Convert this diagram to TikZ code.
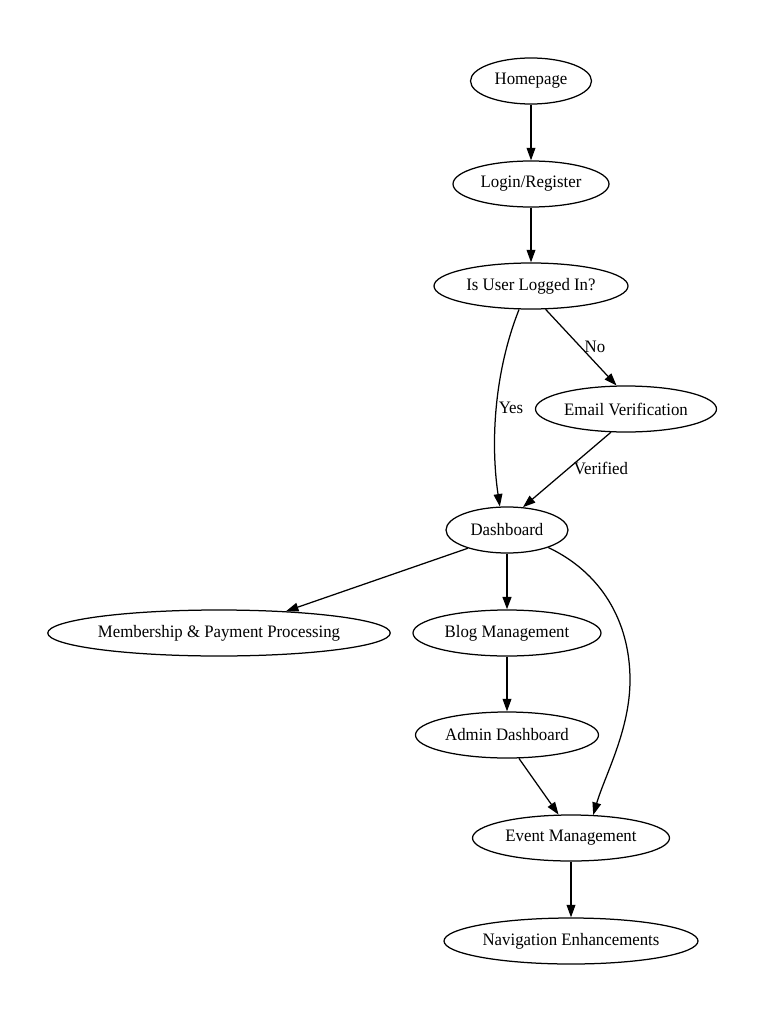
\documentclass[tikz,border=0pt]{standalone}
\usepackage{fontspec}
\setmainfont[FakeStretch=0.96]{Liberation Serif}
\usetikzlibrary{shapes.geometric,arrows.meta}
\begin{document}
\begin{tikzpicture}[x=0.8pt,y=-0.8pt,
  every node/.style={font=\fontsize{14}{17}\selectfont},
  nd/.style={ellipse,draw,line width=1pt,inner sep=0pt,minimum height=36.8pt},
  edge/.style={draw,line width=1pt,-{Triangle[length=10pt,width=7pt]}},
  lbl/.style={inner sep=1pt}]
\useasboundingbox (0,0) rectangle (768,1024);
\node[nd,minimum width=96.8pt] (hp) at (531,81) {Homepage};
\node[nd,minimum width=124.8pt] (lr) at (531,184) {Login/Register};
\node[nd,minimum width=155.2pt] (iu) at (531,286) {Is User Logged In?};
\node[nd,minimum width=144.8pt] (ev) at (626,409) {Email Verification};
\node[nd,minimum width=97.6pt] (db) at (507,530) {Dashboard};
\node[nd,minimum width=273.6pt] (mp) at (219,633) {Membership \& Payment Processing};
\node[nd,minimum width=150.4pt] (bm) at (507,633) {Blog Management};
\node[nd,minimum width=146.4pt] (ad) at (507,735) {Admin Dashboard};
\node[nd,minimum width=157.6pt] (em) at (571,838) {Event Management};
\node[nd,minimum width=203.2pt] (ne) at (571,941) {Navigation Enhancements};
\draw[edge] (hp) -- (lr);
\draw[edge] (lr) -- (iu);
\draw[edge] (iu.302) -- (ev.112);
\node[lbl] (lno) at (595,347) {No};
\draw[edge] (iu.243) .. controls (495,370) and (490,440) .. (db.107);
\node[lbl] (lyes) at (511,408) {Yes};
\draw[edge] (ev.237) -- (db.55);
\node[lbl] (lver) at (601,468) {Verified};
\draw[edge] (db.205) -- (mp.18);
\draw[edge,line width=1.7pt] (db) -- (bm);
\draw[edge] (db.-23) .. controls (600,572) and (630,620) .. (630,680) .. controls (630,730) and (605,775) .. (em.46);
\draw[edge] (bm) -- (ad);
\draw[edge] (ad.297) -- (em.118);
\draw[edge] (em) -- (ne);
\end{tikzpicture}
\end{document}
